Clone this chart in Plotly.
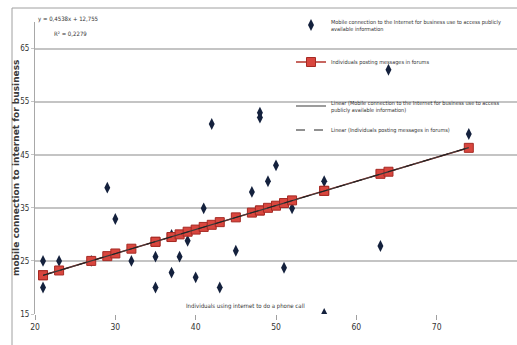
import plotly.graph_objects as go
import numpy as np

# Data
phone_call = [21, 21, 23, 27, 29, 30, 32, 35, 35, 37, 37, 38, 39, 40, 41, 42, 43, 45,
              47, 48, 48, 49, 50, 51, 52, 56, 56, 63, 64, 74]
mobile_business = [25, 20, 25, 25, 38.8, 32.9, 25, 25.8, 20, 29.9, 22.8, 25.8, 28.8, 21.9,
                   34.9, 50.8, 20, 26.9, 38, 52.9, 52, 40, 43, 23.7, 34.9, 40, 15, 27.8, 61, 48.9]
posting_forums = [22.3, 22.3, 23.2, 25.0, 25.9, 26.4, 27.3, 28.6, 28.6, 29.5, 29.5, 30.0, 30.5,
                  30.9, 31.4, 31.8, 32.3, 33.2, 34.1, 34.5, 34.5, 35.0, 35.4, 35.9, 36.4, 38.2,
                  38.2, 41.4, 41.8, 46.3]
trend_slope = 0.4538
trend_intercept = 12.755
r_squared = "0,2279"

FONT = "Liberation Sans Narrow, DejaVu Sans Condensed, Arial Narrow, sans-serif"

xs = np.array([min(phone_call), max(phone_call)], dtype=float)
trend_mobile = trend_slope * xs + trend_intercept
p = np.polyfit(phone_call, posting_forums, 1)
trend_forums = p[0] * xs + p[1]

fig = go.Figure()
fig.add_trace(go.Scatter(
    x=phone_call, y=mobile_business, mode="markers",
    name="Mobile connection to the Internet for business use to access publicly<br>available information",
    marker=dict(symbol="diamond-tall", size=8.5, color="#14213d"),
    legend="legend"))
fig.add_trace(go.Scatter(
    x=phone_call, y=posting_forums, mode="lines+markers",
    name="Individuals posting messages in forums",
    line=dict(color="#b5332b", width=1.5),
    marker=dict(symbol="square", size=9, color="#d9463e", line=dict(color="#a52a24", width=1)),
    legend="legend2"))
fig.add_trace(go.Scatter(
    x=xs, y=trend_mobile, mode="lines",
    name="Linear (Mobile connection to the Internet for business use to access<br>publicly available information)",
    line=dict(color="#3a3a3a", width=1.2),
    legend="legend3"))
fig.add_trace(go.Scatter(
    x=xs, y=trend_forums, mode="lines",
    name="Linear (Individuals posting messages in forums)",
    line=dict(color="#222222", width=1, dash="dash"),
    legend="legend4"))

L, T, W, H = 35, 22, 482, 292

def px_x(px):
    return (px - L) / W

def px_y(py):
    return 1 - (py - T) / H

legfont = dict(family=FONT, size=5.5, color="#333333")
common_leg = dict(xanchor="left", yanchor="middle", bgcolor="rgba(0,0,0,0)",
                  font=legfont, borderwidth=0, itemwidth=30)

fig.update_layout(
    width=517, height=345,
    margin=dict(l=L, r=0, t=T, b=345 - T - H, autoexpand=False),
    paper_bgcolor="white", plot_bgcolor="white",
    showlegend=True,
    legend=dict(x=px_x(291), y=px_y(25), **common_leg),
    legend2=dict(x=px_x(291), y=px_y(62), **common_leg),
    legend3=dict(x=px_x(291), y=px_y(106), **common_leg),
    legend4=dict(x=px_x(291), y=px_y(130), **common_leg),
    xaxis=dict(range=[20, 80], tick0=20, dtick=10, showgrid=False, zeroline=False,
               ticks="outside", ticklen=5, tickcolor="#a0a0a0", showline=False,
               tickfont=dict(family=FONT, size=8.5, color="#333333")),
    yaxis=dict(range=[15, 70], tick0=15, dtick=10, showgrid=True, gridcolor="#c4c4c4",
               gridwidth=1.5, zeroline=False, ticks="outside", ticklen=3,
               tickcolor="#c4c4c4", showline=True, linecolor="#a8a8a8", linewidth=1,
               tickfont=dict(family=FONT, size=8, color="#333333")),
    annotations=[
        dict(text="y = 0,4538x + 12,755", xref="paper", yref="paper",
             x=px_x(36), y=px_y(19), xanchor="left", yanchor="middle", showarrow=False,
             font=dict(family=FONT, size=6, color="#333333")),
        dict(text="R² = " + r_squared, xref="paper", yref="paper",
             x=px_x(52), y=px_y(34), xanchor="left", yanchor="middle", showarrow=False,
             font=dict(family=FONT, size=6, color="#333333")),
        dict(text="Individuals using internet to do a phone call", xref="paper", yref="paper",
             x=px_x(245), y=px_y(306), xanchor="center", yanchor="middle", showarrow=False,
             font=dict(family=FONT, size=6, color="#333333")),
        dict(text="<b>mobile connection to internet for business</b>", xref="paper", yref="paper",
             x=px_x(16), y=px_y(168), xanchor="center", yanchor="middle", showarrow=False,
             textangle=-90,
             font=dict(family="DejaVu Sans", size=9, color="#3a3a3a")),
    ],
    shapes=[
        dict(type="line", xref="paper", yref="paper", x0=px_x(12), x1=px_x(12),
             y0=px_y(8), y1=px_y(345), line=dict(color="#a0a0a0", width=1)),
        dict(type="line", xref="paper", yref="paper", x0=px_x(12), x1=px_x(517),
             y0=px_y(8), y1=px_y(8), line=dict(color="#a0a0a0", width=1)),
    ],
)

fig.write_html("out.html")
